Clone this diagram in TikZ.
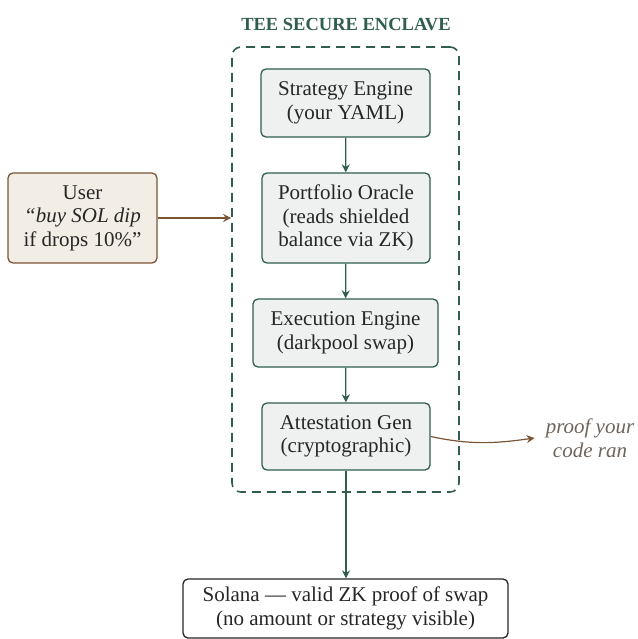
\documentclass[tikz,border=0pt]{standalone}
\usepackage{fontspec}
\setmainfont{Liberation Serif}
\usetikzlibrary{arrows.meta}
\definecolor{encgreen}{HTML}{2F5E4E}
\definecolor{encfill}{HTML}{EEF1EF}
\definecolor{userbrown}{HTML}{7A5536}
\definecolor{userfill}{HTML}{F2EDE5}
\definecolor{notegray}{HTML}{6E645C}
\definecolor{inkdark}{HTML}{262626}
\tikzset{
  stage/.style={draw=encgreen,fill=encfill,line width=1.3pt,rounded corners=5pt,
    align=center,inner sep=0pt,text=inkdark},
  flow/.style={draw=encgreen,line width=1.2pt,-{Stealth[length=8pt,width=8pt]}},
  hint/.style={draw=userbrown,line width=1.2pt,-{Stealth[length=8pt,width=8pt]}}
}

\begin{document}
\begin{tikzpicture}[x=1pt,y=-1pt,font=\fontsize{21}{23.5}\selectfont]
  \useasboundingbox (0,0) rectangle (637,639);

  \node[font=\fontsize{18.5}{20}\selectfont\bfseries,text=encgreen] (title) at (346,25) {TEE SECURE ENCLAVE};
  \node[draw=encgreen,line width=1.6pt,dash pattern=on 9pt off 6pt,rounded corners=9pt,
    minimum width=227,minimum height=445] (enclave) at (345.5,269.5) {};

  \node[stage,minimum width=169,minimum height=68] (strategy) at (345.5,103) {Strategy Engine\\(your YAML)};
  \node[stage,minimum width=168,minimum height=90] (oracle) at (346,218) {Portfolio Oracle\\(reads shielded\\balance via ZK)};
  \node[stage,minimum width=185,minimum height=68] (exec) at (345.5,333) {Execution Engine\\(darkpool swap)};
  \node[stage,minimum width=168,minimum height=67] (attest) at (346,436.5) {Attestation Gen\\(cryptographic)};

  \node[draw=userbrown,fill=userfill,line width=1.3pt,rounded corners=5pt,align=center,inner sep=0pt,
    text=inkdark,minimum width=149,minimum height=90] (user) at (82.5,218) {User\\\textit{``buy SOL dip}\\if drops 10\%''};
  \node[draw=inkdark,fill=white,line width=1.3pt,rounded corners=5pt,align=center,inner sep=0pt,
    text=inkdark,minimum width=325,minimum height=59] (solana) at (345.5,608.5) {Solana --- valid ZK proof of swap\\(no amount or strategy visible)};
  \node[text=notegray,align=center,inner sep=0pt,font=\fontsize{21}{23.5}\selectfont\itshape] (proof) at (590,438) {proof your\\code ran};

  \draw[flow] (strategy) -- (oracle);
  \draw[flow] (oracle) -- (exec);
  \draw[flow] (exec) -- (attest);
  \draw[flow] (attest) -- (solana.north -| attest);
  \draw[hint] (user) -- (enclave.west |- user);
  \draw[hint] (attest.east) to[out=-12,in=188] ([xshift=-11pt]proof.west);
\end{tikzpicture}
\end{document}
